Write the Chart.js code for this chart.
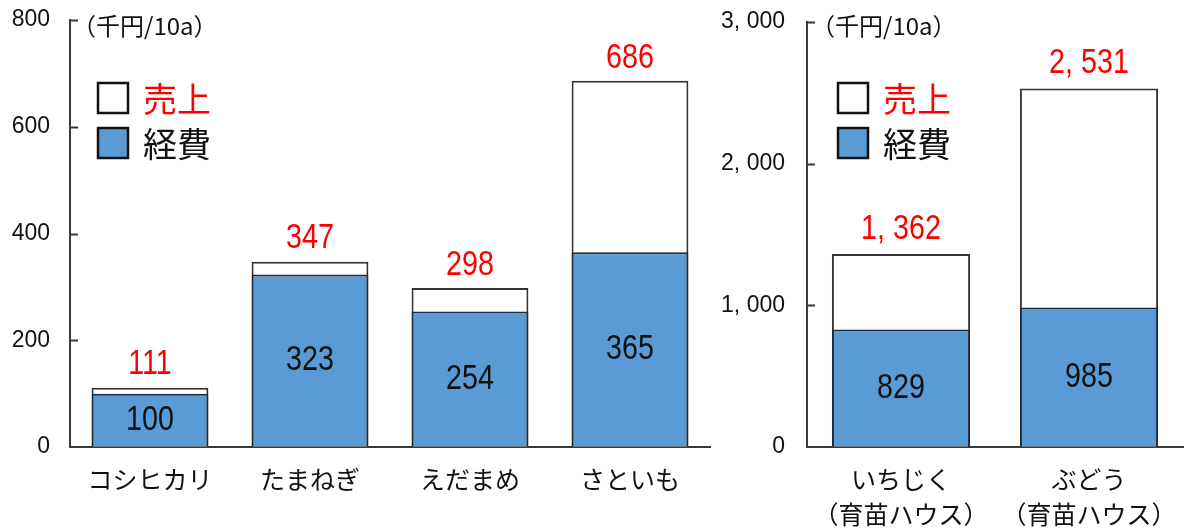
<!DOCTYPE html>
<html>
<head>
<meta charset="utf-8">
<script src="https://cdn.jsdelivr.net/npm/chart.js@4"></script>
<style>
  html,body{margin:0;padding:0;background:#fff;}
  #wrap{position:relative;width:1184px;height:530px;overflow:hidden;}
  canvas{position:absolute;top:0;}
  #c1{left:0;}
  #c2{left:720px;}
</style>
</head>
<body>
<div id="wrap">
  <canvas id="c1" width="720" height="530"></canvas>
  <canvas id="c2" width="464" height="530"></canvas>
</div>
<script>
// ---- data ----
const leftCategories = ['コシヒカリ', 'たまねぎ', 'えだまめ', 'さといも'];
const leftSales = [111, 347, 298, 686];
const leftCosts = [100, 323, 254, 365];
const leftTicks = [0, 200, 400, 600, 800];

const rightCategories = [['いちじく', '（育苗ハウス）'], ['ぶどう', '（育苗ハウス）']];
const rightSales = [1362, 2531];
const rightCosts = [829, 985];
const rightTicks = [0, 1000, 2000, 3000];

const seriesNames = ['売上', '経費'];
const unitLabel = '（千円/10a）';

// ---- styles ----
const BLUE = '#5b9bd5';
const RED = '#ff0000';
const AXIS = '#3a3a3a';
const JP = '"Noto Sans CJK JP", "Noto Sans", sans-serif';
const NUM = '"Liberation Sans", Arial, sans-serif';

function fmt(n) { return n.toLocaleString('en-US').replace(/,/g, ', '); }

function condensed(ctx, text, x, y, color, size) {
  ctx.save();
  ctx.translate(x, y);
  ctx.scale(0.82, 1);
  ctx.font = size + 'px ' + NUM;
  ctx.fillStyle = color;
  ctx.textAlign = 'center';
  ctx.textBaseline = 'middle';
  ctx.fillText(text, 0, 0);
  ctx.restore();
}

function makeDecor(opts) {
  return {
    id: 'decor',
    afterDraw(chart) {
      const ctx = chart.ctx;
      const ca = chart.chartArea;
      const ys = chart.scales.y;
      // inward tick marks
      ctx.save();
      ctx.strokeStyle = AXIS;
      ctx.lineWidth = 2;
      ys.ticks.forEach(t => {
        if (t.value === 0) return;
        const py = Math.round(ys.getPixelForValue(t.value)) + 0.5;
        ctx.beginPath();
        ctx.moveTo(ca.left, py);
        ctx.lineTo(ca.left + 8, py);
        ctx.stroke();
      });
      ctx.restore();

      // unit label
      ctx.save();
      ctx.font = '24px ' + JP;
      ctx.fillStyle = '#111';
      ctx.textAlign = 'left';
      ctx.textBaseline = 'middle';
      ctx.fillText(unitLabel, ca.left + opts.unitDx, 26);
      ctx.restore();

      // legend
      const lx = opts.legendX;
      const items = [
        { name: seriesNames[0], fill: '#ffffff', color: RED, y: 98 },
        { name: seriesNames[1], fill: BLUE, color: '#111', y: 143 }
      ];
      items.forEach(it => {
        ctx.save();
        ctx.fillStyle = it.fill;
        ctx.strokeStyle = '#111';
        ctx.lineWidth = 2.5;
        ctx.fillRect(lx, it.y - 15, 30, 30);
        ctx.strokeRect(lx, it.y - 15, 30, 30);
        ctx.font = '34px ' + JP;
        ctx.fillStyle = it.color;
        ctx.textAlign = 'left';
        ctx.textBaseline = 'middle';
        ctx.fillText(it.name, lx + 45, it.y + 1);
        ctx.restore();
      });

      // value labels
      const costMeta = chart.getDatasetMeta(0);
      const salesMeta = chart.getDatasetMeta(1);
      const costData = chart.data.datasets[0].data;
      const salesData = chart.data.datasets[1].data;
      costMeta.data.forEach((bar, i) => {
        condensed(ctx, fmt(costData[i]), bar.x, (bar.y + bar.base) / 2, '#111', 35);
      });
      salesMeta.data.forEach((bar, i) => {
        condensed(ctx, fmt(salesData[i]), bar.x, bar.y - opts.salesGap, RED, 35);
      });
    }
  };
}

function makeChart(id, cats, sales, costs, ticks, o) {
  const maxV = ticks[ticks.length - 1];
  const step = ticks[1] - ticks[0];
  return new Chart(document.getElementById(id), {
    type: 'bar',
    data: {
      labels: cats,
      datasets: [
        {
          label: seriesNames[1], data: costs,
          backgroundColor: BLUE, borderColor: '#1d2a3a', borderWidth: 2,
          barPercentage: o.barPct, categoryPercentage: 1
        },
        {
          label: seriesNames[0], data: sales,
          backgroundColor: '#ffffff', borderColor: '#333333', borderWidth: 2,
          barPercentage: o.barPct, categoryPercentage: 1
        }
      ]
    },
    options: {
      responsive: false,
      animation: false,
      devicePixelRatio: 1,
      layout: { padding: { top: o.top, right: o.right, left: 0, bottom: 0 } },
      plugins: { legend: { display: false }, tooltip: { enabled: false } },
      scales: {
        x: {
          stacked: true,
          grid: { display: true, color: 'transparent', drawTicks: false },
          border: { display: true, color: AXIS, width: 2 },
          ticks: {
            color: '#111', padding: 15,
            font: { family: JP, size: 25, lineHeight: 1.4 },
            maxRotation: 0, autoSkip: false
          },
          afterFit(s) { s.height = 83; s.paddingLeft = 0; s.paddingRight = 0; }
        },
        y: {
          stacked: false,
          min: 0, max: maxV,
          grid: { display: true, color: 'transparent', drawTicks: false },
          border: { display: true, color: AXIS, width: 2 },
          afterBuildTicks(s) { s.ticks = ticks.map(v => ({ value: v })); },
          ticks: {
            stepSize: step,
            color: '#111', padding: o.tickPad,
            font: { family: NUM, size: 23 },
            callback: v => fmt(v)
          },
          afterFit(s) { s.width = o.yWidth; s.paddingTop = 0; s.paddingBottom = 0; }
        }
      }
    },
    plugins: [makeDecor(o)]
  });
}

makeChart('c1', leftCategories, leftSales, leftCosts, leftTicks,
  { barPct: 0.73, top: 20, right: 10, yWidth: 70, tickPad: 20, unitDx: 2, legendX: 98, salesGap: 23 });
makeChart('c2', rightCategories, rightSales, rightCosts, rightTicks,
  { barPct: 0.735, top: 22, right: 1, yWidth: 87, tickPad: 22, unitDx: 4, legendX: 118, salesGap: 25 });
</script>
</body>
</html>
